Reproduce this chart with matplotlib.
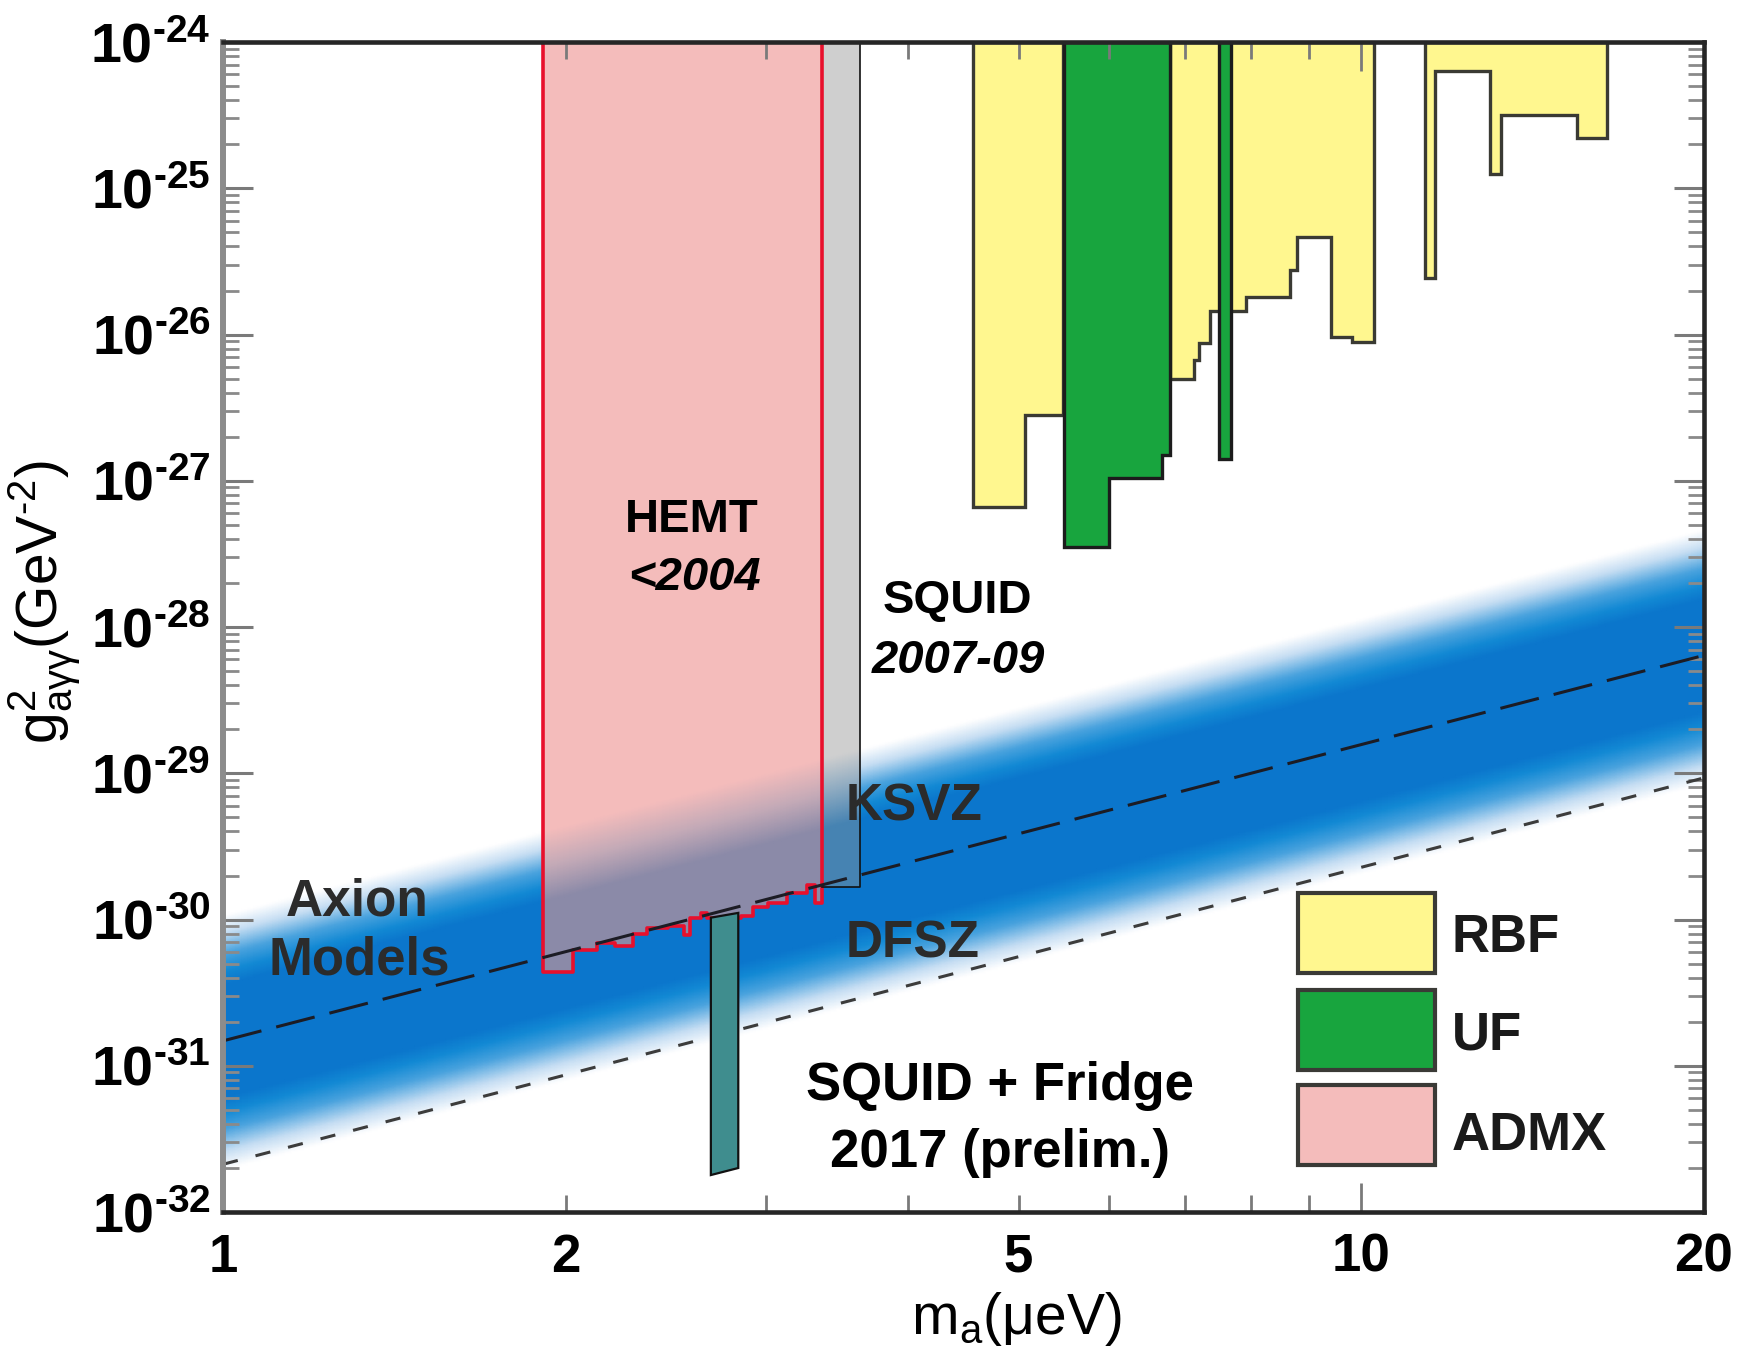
import numpy as np
import matplotlib.pyplot as plt
from matplotlib.colors import LinearSegmentedColormap
from matplotlib.patches import Polygon, Rectangle
from matplotlib.ticker import FixedLocator, FixedFormatter, NullFormatter

plt.rcParams['font.family'] = ['Liberation Sans', 'DejaVu Sans']
plt.rcParams['mathtext.fontset'] = 'custom'
plt.rcParams['mathtext.rm'] = 'Liberation Sans'
plt.rcParams['mathtext.it'] = 'Liberation Sans:italic'
plt.rcParams['mathtext.bf'] = 'Liberation Sans:bold'

TOP = 1e-24
HYPH = '\u2010'

# axion model lines, read at the two ends of the mass axis
model_m = [1.0, 20.0]
ksvz_g2 = [1.48e-31, 6.4e-29]
dfsz_g2 = [2.12e-32, 9.3e-30]

# RBF exclusion: bin edges (ueV) and lower limit in each bin
rbf_a_m = [4.557, 5.065, 5.467]
rbf_a_g2 = [6.6e-28, 2.83e-27]
rbf_b_m = [6.793, 7.124, 7.198, 7.369, 7.920, 8.659, 8.776, 9.400, 9.824, 10.26]
rbf_b_g2 = [4.95e-27, 6.7e-27, 8.8e-27, 1.45e-26, 1.81e-26, 2.76e-26, 4.64e-26, 9.6e-27, 8.9e-27]
rbf_c_m = [11.37, 11.60, 12.97, 13.26, 15.47, 16.45]
rbf_c_g2 = [2.45e-26, 6.35e-25, 1.25e-25, 3.18e-25, 2.21e-25]

# UF exclusion
uf_a_m = [5.481, 6.002, 6.683, 6.793]
uf_a_g2 = [3.54e-28, 1.04e-27, 1.50e-27]
uf_b_m = [7.499, 7.678]
uf_b_g2 = [1.41e-27]

# ADMX HEMT (<2004)
admx_m = [1.912, 2.03, 2.13, 2.21, 2.29, 2.36, 2.46, 2.54, 2.57, 2.63,
          2.66, 2.85, 2.92, 3.01, 3.13, 3.26, 3.31, 3.357]
admx_g2 = [4.4e-31, 6.2e-31, 6.9e-31, 6.6e-31, 8.0e-31, 8.8e-31, 9.1e-31,
           7.8e-31, 1.03e-30, 1.10e-30, 1.02e-30, 1.05e-30, 1.21e-30,
           1.29e-30, 1.51e-30, 1.71e-30, 1.29e-30]

# ADMX SQUID (2007-09)
squid_m = [3.357, 3.625]
squid_g2 = [1.67e-30]

# SQUID + fridge 2017 (prelim.)
fridge_m = [2.683, 2.836, 2.836, 2.683]
fridge_g2 = [1.03e-30, 1.11e-30, 2.0e-32, 1.79e-32]

x_ticks = [1, 2, 5, 10, 20]
x_ticklabels = ['1', '2', '5', '10', '20']
x_minor = [3, 4, 6, 7, 8, 9]
y_exp = [-32, -31, -30, -29, -28, -27, -26, -25, -24]

legend_names = ['RBF', 'UF', 'ADMX']
legend_colors = ['#fff78f', '#18a53e', '#f4bcbb']


def step_poly(edges, bottoms, top=TOP):
    # outline of an exclusion region hanging from the top of the plot
    pts = [(edges[0], top)]
    for i, b in enumerate(bottoms):
        pts.append((edges[i], b))
        pts.append((edges[i + 1], b))
    pts.append((edges[-1], top))
    return pts


fig = plt.figure(figsize=(17.46, 13.47), dpi=100)
ax = fig.add_axes([0.1277, 0.1002, 0.8482, 0.8686])
ax.set_xscale('log')
ax.set_yscale('log')
ax.set_xlim(1, 20)
ax.set_ylim(1e-32, 1e-24)
ax.set_axisbelow(False)

# axion model band, fading out above and below the KSVZ line
mm = np.logspace(0, np.log10(20), 240)
gg = np.logspace(-33, -26, 700)
M, G = np.meshgrid(mm, gg)
k_at = np.interp(np.log10(M), np.log10(model_m), np.log10(ksvz_g2))
d = np.log10(G) - k_at
t = np.minimum(np.clip((0.86 - d) / 0.48, 0, 1), np.clip((d + 0.88) / 0.50, 0, 1))

band_cmap = LinearSegmentedColormap.from_list(
    'band', [(0, '#ffffff'), (0.25, '#c6def3'), (0.55, '#4aa3de'),
             (0.8, '#1289d4'), (1, '#0b76cc')])
ax.pcolormesh(M, G, t, cmap=band_cmap, vmin=0, vmax=1, shading='gouraud', zorder=1)

# RBF and UF regions
for em, eg in [(rbf_a_m, rbf_a_g2), (rbf_b_m, rbf_b_g2), (rbf_c_m, rbf_c_g2)]:
    ax.add_patch(Polygon(step_poly(em, eg), closed=True, facecolor=legend_colors[0],
                         edgecolor='#3a3a33', linewidth=2.4, zorder=2))
for em, eg in [(uf_a_m, uf_a_g2), (uf_b_m, uf_b_g2)]:
    ax.add_patch(Polygon(step_poly(em, eg), closed=True, facecolor=legend_colors[1],
                         edgecolor='#1c1c1c', linewidth=2.4, zorder=2.05))

# ADMX HEMT region, band seen through it
admx_pts = step_poly(admx_m, admx_g2)
admx_patch = Polygon(admx_pts, closed=True, facecolor=legend_colors[2],
                     edgecolor='none', zorder=2)
ax.add_patch(admx_patch)
pink_cmap = LinearSegmentedColormap.from_list(
    'pink', [(0, '#f4bcbb'), (0.5, '#c4aab7'), (1, '#8b8aa8')])
mesh = ax.pcolormesh(M, G, t, cmap=pink_cmap, vmin=0, vmax=1, shading='gouraud', zorder=2.1)
mesh.set_clip_path(admx_patch)
ax.plot([p[0] for p in admx_pts], [p[1] for p in admx_pts], color='#e8102c',
        linewidth=2.6, zorder=3)

# ADMX SQUID region
squid_pts = step_poly(squid_m, squid_g2)
squid_patch = Polygon(squid_pts, closed=True, facecolor='#cfcfcf', edgecolor='none', zorder=2)
ax.add_patch(squid_patch)
gray_cmap = LinearSegmentedColormap.from_list('gray', [(0, '#cfcfcf'), (1, '#4683b2')])
mesh2 = ax.pcolormesh(M, G, t, cmap=gray_cmap, vmin=0, vmax=1, shading='gouraud', zorder=2.1)
mesh2.set_clip_path(squid_patch)
ax.plot([p[0] for p in squid_pts[1:]], [p[1] for p in squid_pts[1:]], color='#111111',
        linewidth=1.2, zorder=3)

# model lines
ax.plot(model_m, ksvz_g2, color='#1c1c24', linewidth=2.2, dashes=(13, 5), zorder=3.5)
ax.plot(model_m, dfsz_g2, color='#3c3c3c', linewidth=2.2, dashes=(5, 6), zorder=3.5)

# 2017 fridge run
ax.fill(fridge_m, fridge_g2, facecolor='#3f8d8e', edgecolor='#111111', linewidth=1.6, zorder=4)

# ticks
ax.xaxis.set_major_locator(FixedLocator(x_ticks))
ax.xaxis.set_major_formatter(FixedFormatter(x_ticklabels))
ax.xaxis.set_minor_locator(FixedLocator(x_minor))
ax.xaxis.set_minor_formatter(NullFormatter())
y_ticks = [10.0 ** e for e in y_exp]
y_labels = ['$\\mathbf{10^{' + HYPH + str(-e) + '}}$' for e in y_exp]
ax.yaxis.set_major_locator(FixedLocator(y_ticks))
ax.yaxis.set_major_formatter(FixedFormatter(y_labels))
ax.yaxis.set_minor_formatter(NullFormatter())

ax.tick_params(axis='y', which='major', direction='in', left=True, right=True,
               length=21.5, width=2.2, color='#7a7a7a', pad=9, labelsize=40)
ax.tick_params(axis='y', which='minor', direction='in', left=True, right=True,
               length=11.5, width=2.0, color='#8a8a8a')
ax.tick_params(axis='x', which='both', direction='in', bottom=True, top=True,
               length=12, width=2.0, color='#7a7a7a', pad=15, labelsize=38)
for lab in ax.get_xticklabels():
    lab.set_fontweight('bold')
tk10 = ax.xaxis.get_major_ticks()[3]
tk10.tick1line.set_markersize(21)
tk10.tick2line.set_markersize(21)

for s in ['top', 'right', 'bottom']:
    ax.spines[s].set_linewidth(3.3)
    ax.spines[s].set_color('#262626')
    ax.spines[s].set_zorder(10)
ax.spines['left'].set_linewidth(4.3)
ax.spines['left'].set_color('#8c8c8c')
ax.spines['left'].set_zorder(10)

# labels
fig.text(0.5819, 0.0208, 'm$_{\\rm a}$(μeV)', fontsize=41, ha='center', va='center')
fig.text(0.0258, 0.5531, 'g$^{2}_{\\rm a\\gamma\\gamma}$(GeV$^{' + HYPH + '2}$)', fontsize=41,
         rotation=90, ha='center', va='center')

# annotations
notes = [
    ('HEMT', 0.3167, 0.5812, 34, 'normal', 'black'),
    ('<2004', 0.3187, 0.5316, 34, 'italic', 'black'),
    ('SQUID', 0.4959, 0.5120, 34, 'normal', 'black'),
    ('2007-09', 0.4968, 0.4607, 34, 'italic', 'black'),
    ('KSVZ', 0.4666, 0.3350, 37, 'normal', '#2b2b2b'),
    ('DFSZ', 0.4659, 0.2174, 37, 'normal', '#2b2b2b'),
    ('Axion', 0.0905, 0.2538, 37, 'normal', '#2b2b2b'),
    ('Models', 0.0918, 0.2026, 38, 'normal', '#2b2b2b'),
    ('SQUID + Fridge', 0.5246, 0.0957, 38, 'normal', 'black'),
    ('2017 (prelim.)', 0.5246, 0.0385, 38, 'normal', 'black'),
]
for txt, x, y, size, style, col in notes:
    ax.text(x, y, txt, transform=ax.transAxes, fontsize=size, fontweight='bold',
            fontstyle=style, color=col, ha='center', va='baseline', zorder=5)

# legend
box_tops = [0.2726, 0.1897, 0.1085]
text_base = [0.2222, 0.1385, 0.0530]
for name, col, top, base in zip(legend_names, legend_colors, box_tops, text_base):
    ax.add_patch(Rectangle((0.7259, top - 0.0684), 0.0925, 0.0684, transform=ax.transAxes,
                           facecolor=col, edgecolor='#3a3a36', linewidth=3.0,
                           zorder=6, clip_on=False))
    ax.text(0.8298, base, name, transform=ax.transAxes, fontsize=38, fontweight='bold',
            color='#1a1a1a', ha='left', va='baseline', zorder=6)

fig.savefig('out.png', dpi=100)
